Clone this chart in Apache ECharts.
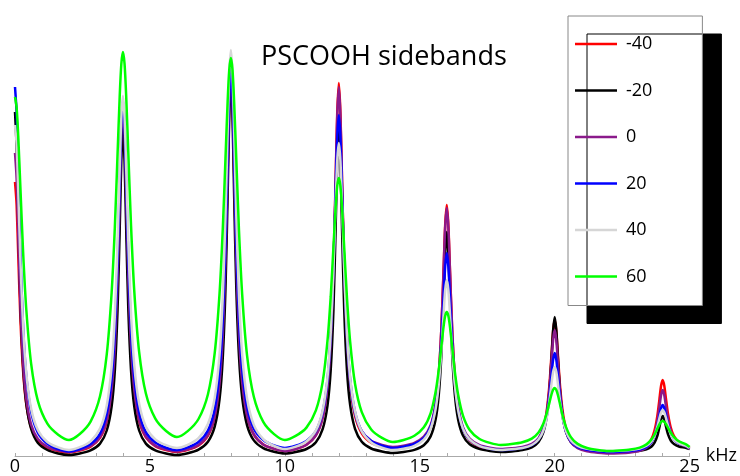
<!DOCTYPE html>
<html>
<head>
<meta charset="utf-8">
<script src="https://cdn.jsdelivr.net/npm/echarts@6/dist/echarts.min.js"></script>
<style>
  html, body { margin: 0; padding: 0; background: #fff; }
  #chart { width: 740px; height: 476px; }
</style>
</head>
<body>
<div id="chart"></div>
<script>
// Frequency axis (kHz) shared by every spectrum
const freq = [
  0, 0.06, 0.12, 0.2, 0.3, 0.42, 0.6, 0.85, 1.2, 1.6, 2, 2.4, 2.8, 3.15, 3.4, 3.58, 3.7, 3.8, 3.88, 3.94,
  4, 4.06, 4.12, 4.2, 4.3, 4.42, 4.6, 4.85, 5.2, 5.6, 6, 6.4, 6.8, 7.15, 7.4, 7.58, 7.7, 7.8, 7.88, 7.94,
  8, 8.06, 8.12, 8.2, 8.3, 8.42, 8.6, 8.85, 9.2, 9.6, 10, 10.4, 10.8, 11.15, 11.4, 11.58, 11.7, 11.8, 11.88, 11.94,
  12, 12.06, 12.12, 12.2, 12.3, 12.42, 12.6, 12.85, 13.2, 13.6, 14, 14.4, 14.8, 15.15, 15.4, 15.58, 15.7, 15.8, 15.88, 15.94,
  16, 16.06, 16.12, 16.2, 16.3, 16.42, 16.6, 16.85, 17.2, 17.6, 18, 18.4, 18.8, 19.15, 19.4, 19.58, 19.7, 19.8, 19.88, 19.94,
  20, 20.06, 20.12, 20.2, 20.3, 20.42, 20.6, 20.85, 21.2, 21.6, 22, 22.4, 22.8, 23.15, 23.4, 23.58, 23.7, 23.8, 23.88, 23.94,
  24, 24.06, 24.12, 24.2, 24.3, 24.42, 24.6, 24.85, 25
];

// Sideband intensity at each temperature
const tempM40 = [
  274, 251.3, 201.5, 137.4, 84.9, 51.4, 28.1, 15.1, 8.1, 5, 3.5, 5.4, 9.3, 18.2, 34.6, 63.9, 106.3, 172.5, 253.5, 316.3,
  345, 316.4, 253.6, 172.8, 106.6, 64.4, 35, 18.7, 9.8, 5.9, 4, 6.1, 10.5, 20.4, 38.7, 71.4, 118.7, 192.6, 282.9, 353,
  385, 353.1, 283.2, 193.1, 119.4, 72.3, 39.6, 21.3, 11.5, 7.1, 5, 7, 11.3, 20.8, 38.5, 70.1, 115.8, 187.2, 274.4, 342.1,
  373, 342.3, 274.9, 188.2, 117.2, 71.8, 40.3, 22.7, 13.2, 9, 7, 8.3, 11.1, 17.5, 29.2, 50.2, 80.4, 127.8, 185.6, 230.5,
  251, 230.3, 185.1, 126.8, 79, 48.5, 27.4, 15.6, 9.2, 6.4, 5, 5.7, 7.2, 10.6, 16.9, 28.2, 44.4, 69.8, 100.9, 125,
  136, 124.9, 100.6, 69.3, 43.7, 27.4, 16, 9.7, 6.2, 4.7, 4, 4.4, 5.2, 7.1, 10.6, 16.7, 25.7, 39.6, 56.7, 70,
  76, 70.3, 57.8, 41.7, 28.5, 20, 14.2, 10.9, 8
];
const tempM20 = [
  344, 309, 238, 153, 90, 52, 27, 13, 6, 2.5, 1, 2.5, 5.6, 12.4, 25.5, 49.4, 85.7, 146, 227, 295,
  328, 295, 227, 146, 85.7, 49.4, 25.5, 12.4, 5.6, 2.5, 1, 2.7, 6.3, 14.2, 29.3, 56.8, 98.6, 168, 261, 340,
  378, 340, 261.5, 168.8, 99.8, 58.1, 30.7, 15.6, 7.8, 4.2, 2.5, 4, 7, 13.8, 26.8, 50.4, 86.3, 145.8, 225.7, 293.3,
  326, 293.4, 225.9, 146.1, 86.7, 50.8, 27.2, 14.3, 7.5, 4.5, 3, 4, 6.1, 10.7, 19.6, 35.7, 60.2, 100.9, 155.5, 201.7,
  224, 201.8, 155.8, 101.5, 61, 36.6, 20.5, 11.7, 7.1, 5, 4, 4.6, 5.9, 8.7, 14.1, 24, 39, 63.8, 97.2, 125.4,
  139, 125.4, 97.2, 63.8, 39, 24, 14.1, 8.7, 5.9, 4.6, 4, 4.2, 4.5, 5.3, 6.7, 9.3, 13.3, 19.9, 28.8, 36.4,
  40, 36.7, 29.8, 21.6, 15.5, 11.9, 9.5, 8.2, 7
];
const temp0 = [
  303, 277.9, 222.9, 152, 94, 56.9, 31.2, 16.9, 9.1, 5.6, 4, 5.9, 10, 19, 35.9, 66, 109.4, 177.3, 260.2, 324.6,
  354, 324.6, 260.3, 177.5, 109.7, 66.4, 36.3, 19.5, 10.4, 6.4, 4.5, 6.6, 11.1, 21.1, 39.6, 72.7, 120.5, 195.3, 286.7, 357.6,
  390, 357.7, 286.8, 195.6, 120.9, 73.1, 40, 21.6, 11.5, 7.1, 5, 7, 11.2, 20.7, 38.1, 69.4, 114.6, 185.2, 271.4, 338.4,
  369, 338.8, 272.5, 187.2, 117.4, 72.7, 41.8, 24.5, 15.1, 11, 9, 10.3, 13.1, 19.3, 30.7, 51.3, 80.9, 127.3, 183.9, 227.9,
  248, 227.8, 183.4, 126.3, 79.5, 49.7, 28.9, 17.4, 11.1, 8.3, 7, 7.7, 9, 12.1, 17.8, 28.1, 42.8, 65.9, 94.1, 116,
  126, 115.6, 92.9, 63.6, 39.7, 24.4, 13.7, 7.8, 4.6, 3.2, 2.5, 2.8, 3.6, 5.2, 8.3, 13.7, 21.6, 33.9, 49, 60.7,
  66, 61, 50.2, 36.2, 24.8, 17.4, 12.4, 9.5, 7
];
const temp20 = [
  369, 343.5, 284.4, 202.4, 129.2, 79.6, 43.9, 23.1, 12.2, 6.9, 4.5, 6.9, 11.9, 22.4, 42.5, 76.9, 124.7, 195.4, 274.5, 331.4,
  356, 331.5, 274.8, 196, 125.7, 78.1, 43.8, 23.9, 13.4, 8.3, 6, 8.6, 14, 25.5, 47.3, 84.7, 136.6, 213.4, 299.4, 361.3,
  388, 361.4, 299.8, 214.3, 138, 86.3, 49, 27.4, 16, 10.5, 8, 10.2, 15, 25, 44, 76.6, 121.9, 188.8, 263.7, 317.7,
  341, 317.7, 263.7, 188.8, 121.9, 76.6, 44, 25, 15, 10.2, 8, 9.3, 12.1, 17.9, 29.1, 48.2, 74.7, 113.9, 157.8, 189.4,
  203, 189.2, 157.3, 113, 73.4, 46.6, 27.3, 16, 10.1, 7.3, 6, 6.6, 8, 10.9, 16.5, 26, 39.2, 58.7, 80.5, 96.2,
  103, 96.1, 80, 57.8, 37.9, 24.4, 14.7, 9, 6.1, 4.7, 4, 4.3, 5, 6.4, 9.1, 13.7, 20.1, 29.5, 40.1, 47.7,
  51, 48, 41, 31.3, 22.7, 16.9, 12.6, 10.2, 8
];
const temp40 = [
  331, 311.5, 265, 195.8, 129.8, 82.4, 47, 25.7, 14, 8.6, 6, 8.8, 14.7, 27.4, 50.6, 89.2, 140.9, 212.7, 288.1, 338.8,
  360, 338.9, 288.5, 213.6, 142.1, 90.7, 52.4, 29.3, 16.7, 10.8, 8, 11.1, 17.8, 32.1, 58.1, 101.5, 159.6, 240.4, 325.2, 382.1,
  406, 382.1, 325, 240, 159, 100.8, 57.3, 31.1, 16.9, 10.2, 7, 9.4, 14.6, 25.5, 45.6, 78.9, 123.6, 185.7, 250.9, 294.6,
  313, 294.6, 250.7, 185.3, 123, 78.1, 44.7, 24.6, 13.6, 8.4, 6, 7.3, 10.2, 16.3, 27.4, 46, 70.8, 105.3, 141.5, 165.8,
  176, 165.8, 141.5, 105.3, 70.8, 46, 27.4, 16.3, 10.2, 7.3, 6, 6.7, 8, 11, 16.5, 25.5, 37.6, 54.5, 72.2, 84,
  89, 84, 72, 54.1, 37, 24.7, 15.6, 10.1, 7.1, 5.7, 5, 5.3, 6, 7.5, 10.2, 14.6, 20.6, 28.9, 37.7, 43.5,
  46, 43.7, 38.3, 30.2, 22.5, 16.9, 12.8, 10.3, 8
];
const temp60 = [
  359, 348.4, 319.9, 268.4, 204.3, 146, 91.8, 54.8, 32.3, 21.3, 16, 22, 34.4, 59.8, 101.7, 163, 229, 301.6, 359.8, 392,
  404, 392.1, 360.1, 302.4, 230.4, 164.9, 104.1, 62.5, 37.3, 25, 19, 24.9, 37, 61.8, 102.8, 162.6, 227.1, 297.9, 354.8, 386.3,
  398, 386.2, 354.5, 297.2, 225.7, 160.8, 100.4, 59.2, 34.1, 21.9, 16, 20.1, 28.4, 45.6, 73.9, 115.3, 159.8, 208.8, 248.1, 269.9,
  278, 269.8, 247.9, 208.3, 158.9, 114.1, 72.3, 43.8, 26.5, 18.1, 14, 16, 20.2, 28.7, 42.7, 63.3, 85.4, 109.7, 129.2, 140,
  144, 139.9, 128.8, 108.9, 84, 61.4, 40.4, 26, 17.3, 13.1, 11, 11.9, 13.7, 17.4, 23.6, 32.6, 42.3, 53, 61.5, 66.2,
  68, 66, 60.8, 51.4, 39.6, 28.9, 18.9, 12.1, 8, 6, 5, 5.5, 6.4, 8.4, 11.6, 16.4, 21.5, 27.1, 31.6, 34.1,
  35, 34.2, 32, 28.1, 23.3, 18.9, 14.7, 11.9, 9
];

const seriesNames = ['-40', '-20', '0', '20', '40', '60'];
const seriesData = [tempM40, tempM20, temp0, temp20, temp40, temp60];
const seriesColors = ['#ff0000', '#000000', '#8b1a8b', '#0000ff', '#d6d6d6', '#00ff00'];

const xTicks = [0, 5, 10, 15, 20, 25];

const chart = echarts.init(document.getElementById('chart'), null, { renderer: 'canvas' });

const series = seriesNames.map((name, i) => ({
  name: name,
  type: 'line',
  data: freq.map((f, k) => [f, seriesData[i][k]]),
  showSymbol: false,
  smooth: 0.25,
  lineStyle: { color: seriesColors[i], width: 2.5 },
  itemStyle: { color: seriesColors[i] },
  z: 2 + i
}));

chart.setOption({
  animation: false,
  backgroundColor: '#ffffff',
  title: {
    text: 'PSCOOH sidebands',
    left: 256,
    top: 39,
    textStyle: { fontFamily: 'Open Sans', fontSize: 27, fontWeight: 'normal', color: '#000' }
  },
  legend: {
    orient: 'vertical',
    left: 568,
    top: 16,
    padding: [18, 50, 19, 7],
    itemWidth: 42,
    itemHeight: 2.5,
    itemGap: 26.5,
    icon: 'rect',
    backgroundColor: '#ffffff',
    borderColor: '#888888',
    borderWidth: 1,
    shadowColor: '#000000',
    shadowBlur: 0,
    shadowOffsetX: 19,
    shadowOffsetY: 18,
    textStyle: { fontFamily: 'Open Sans', fontSize: 18, color: '#000', lineHeight: 20, padding: [0, 0, 0, 4] },
    data: seriesNames
  },
  grid: { left: 15, right: 48, top: 16, bottom: 20, containLabel: false },
  xAxis: {
    type: 'value',
    min: 0,
    max: 25,
    interval: 5,
    name: 'kHz',
    nameLocation: 'end',
    nameGap: 11,
    nameTextStyle: { fontFamily: 'Open Sans', fontSize: 18, color: '#000', verticalAlign: 'middle' },
    axisLine: { lineStyle: { color: '#aaaaaa', width: 1 } },
    axisTick: { show: true, inside: true, length: 3, lineStyle: { color: '#aaaaaa' } },
    minorTick: { show: true, splitNumber: 5, length: 3, lineStyle: { color: '#aaaaaa' } },
    axisLabel: {
      fontFamily: 'Open Sans', fontSize: 18, color: '#000', margin: 2,
      formatter: v => (xTicks.indexOf(v) >= 0 ? String(v) : '')
    },
    splitLine: { show: false }
  },
  yAxis: {
    type: 'value',
    min: 0,
    max: 440,
    show: false,
    splitLine: { show: false }
  },
  series: series
});
</script>
</body>
</html>
